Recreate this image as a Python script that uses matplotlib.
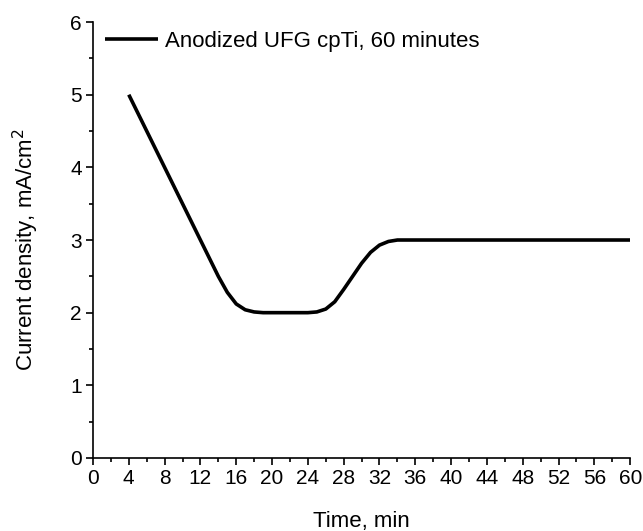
import matplotlib
matplotlib.use('Agg')
import matplotlib.pyplot as plt
from matplotlib.ticker import MultipleLocator

### Values
time_min = [4, 6, 8, 10, 12, 14, 15, 16, 17, 18, 19, 20, 22, 24, 25, 26, 27, 28,
            29, 30, 31, 32, 33, 34, 35, 36, 40, 50, 60]
current_density = [5.0, 4.5, 4.0, 3.5, 3.0, 2.5, 2.28, 2.12, 2.04, 2.01, 2.0, 2.0,
                   2.0, 2.0, 2.01, 2.05, 2.15, 2.32, 2.5, 2.68, 2.83, 2.93, 2.98,
                   3.0, 3.0, 3.0, 3.0, 3.0, 3.0]
series_label = 'Anodized UFG cpTi, 60 minutes'

plt.rcParams['font.family'] = ['Liberation Sans', 'DejaVu Sans']

fig = plt.figure(figsize=(6.43, 5.31), dpi=100)
ax = fig.add_axes([0.1446, 0.1375, 0.8355, 0.821])
ax.plot(time_min, current_density, color='black', lw=2.6, label=series_label,
        solid_capstyle='butt')

ax.set_xlim(0, 60)
ax.set_ylim(0, 6)
ax.xaxis.set_major_locator(MultipleLocator(4))
ax.xaxis.set_minor_locator(MultipleLocator(2))
ax.yaxis.set_major_locator(MultipleLocator(1))
ax.yaxis.set_minor_locator(MultipleLocator(0.5))
ax.spines['top'].set_visible(False)
ax.spines['right'].set_visible(False)
for s in ['left', 'bottom']:
    ax.spines[s].set_linewidth(1.2)
ax.tick_params(which='major', direction='out', length=5, width=1.2, labelsize=15, pad=3)
ax.tick_params(which='minor', direction='out', length=3, width=1.2)

ax.set_xlabel('Time, min', fontsize=16)
ax.set_ylabel('Current density, mA/cm$^2$', fontsize=16)
ax.xaxis.set_label_coords(0.5, -0.122)
ax.yaxis.set_label_coords(-0.097, 0.477)

ax.legend(loc='upper left', frameon=False, fontsize=16, handlelength=2.4,
          handletextpad=0.3, borderaxespad=0, bbox_to_anchor=(0.006, 1.0))

fig.savefig('out.png', dpi=100)
